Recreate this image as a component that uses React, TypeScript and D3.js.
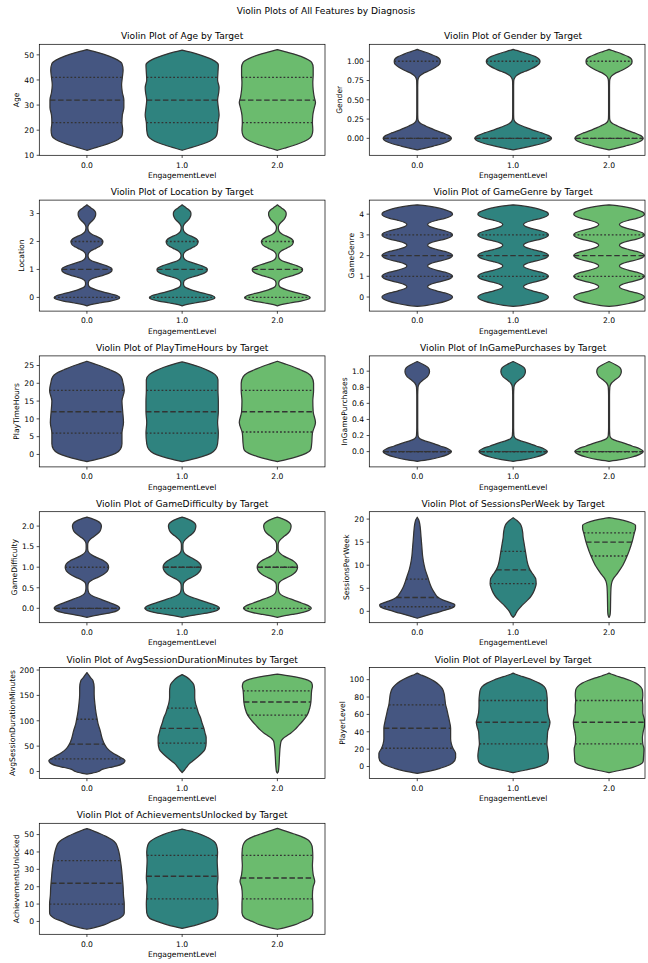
import React from "react";
import * as d3 from "d3";

type Profile = [number, number][];

// categories and colours
const levels = ["0.0", "1.0", "2.0"];
const violinColors = ["#455681", "#2f837f", "#6bbb6e"];
const features = [
  "Age", "Gender", "Location", "GameGenre", "PlayTimeHours", "InGamePurchases",
  "GameDifficulty", "SessionsPerWeek", "AvgSessionDurationMinutes", "PlayerLevel", "AchievementsUnlocked",
];

// y axis ranges and ticks
const yDomains: [number, number][] = [
  [10, 54.2], [-0.22, 1.22], [-0.49, 3.48], [-0.68, 4.68], [-3.5, 27.7], [-0.19, 1.19],
  [-0.35, 2.35], [-2.46, 21.6], [-13.8, 205], [-13.8, 114], [-7.4, 56.5],
];
const yTicks = [
  [10, 20, 30, 40, 50],
  [0, 0.25, 0.5, 0.75, 1],
  [0, 1, 2, 3],
  [0, 1, 2, 3, 4],
  [0, 5, 10, 15, 20, 25],
  [0, 0.2, 0.4, 0.6, 0.8, 1],
  [0, 0.5, 1, 1.5, 2],
  [0, 5, 10, 15, 20],
  [0, 50, 100, 150, 200],
  [0, 20, 40, 60, 80, 100],
  [0, 10, 20, 30, 40, 50],
];
const tickDigits = [0, 2, 0, 0, 0, 1, 1, 0, 0, 0, 0];

// density outlines: [value, relative half width]
const ageDensity: Profile[] = [
  [[12, 0], [12.8, 0.18], [13.8, 0.4], [15, 0.63], [16.3, 0.82], [17.8, 0.92], [20, 0.94], [23, 0.92], [26, 0.93], [29, 0.97], [32, 0.97], [35, 0.93], [38, 0.91], [41, 0.93], [44, 0.95], [46.5, 0.92], [48, 0.8], [49.5, 0.58], [50.8, 0.32], [51.6, 0.12], [52.1, 0]],
  [[12, 0], [12.8, 0.18], [13.8, 0.4], [15, 0.63], [16.3, 0.8], [17.8, 0.9], [20, 0.93], [23, 0.94], [26, 0.97], [29, 0.95], [32, 0.93], [35, 0.96], [37, 0.97], [40, 0.93], [43, 0.94], [46, 0.95], [47.5, 0.86], [49, 0.65], [50.5, 0.36], [51.4, 0.13], [51.9, 0]],
  [[12, 0], [12.8, 0.18], [13.8, 0.4], [15, 0.62], [16.3, 0.8], [17.8, 0.9], [20, 0.93], [23, 0.92], [26, 0.93], [29, 0.97], [31, 1.0], [33, 0.97], [36, 0.94], [39, 0.93], [42, 0.94], [45, 0.94], [47, 0.9], [48.5, 0.75], [50, 0.5], [51.2, 0.22], [52.1, 0]],
];
const ageQuartiles = [[23, 32, 41], [23, 32, 41], [23, 32, 41]];

const genderSide: Profile = [[-0.15, 0], [-0.13, 0.18], [-0.1, 0.42], [-0.07, 0.65], [-0.035, 0.83], [0, 0.89], [0.035, 0.83], [0.07, 0.67], [0.1, 0.5], [0.13, 0.36], [0.16, 0.22], [0.19, 0.1], [0.22, 0.035], [0.26, 0.015], [0.35, 0.012], [0.5, 0.012], [0.65, 0.012], [0.74, 0.015], [0.78, 0.03], [0.81, 0.07], [0.84, 0.15], [0.87, 0.28], [0.9, 0.4], [0.94, 0.53], [0.97, 0.59], [1, 0.6], [1.03, 0.58], [1.06, 0.5], [1.09, 0.36], [1.12, 0.2], [1.14, 0.08], [1.155, 0]];
const genderMiddle: Profile = [[-0.15, 0], [-0.13, 0.2], [-0.1, 0.47], [-0.07, 0.73], [-0.035, 0.93], [0, 1.0], [0.035, 0.93], [0.07, 0.75], [0.1, 0.56], [0.13, 0.4], [0.16, 0.24], [0.19, 0.11], [0.22, 0.04], [0.26, 0.015], [0.35, 0.012], [0.5, 0.012], [0.65, 0.012], [0.74, 0.015], [0.78, 0.035], [0.81, 0.08], [0.84, 0.17], [0.87, 0.32], [0.9, 0.46], [0.94, 0.61], [0.97, 0.68], [1, 0.7], [1.03, 0.67], [1.06, 0.58], [1.09, 0.42], [1.12, 0.23], [1.14, 0.09], [1.155, 0]];
const genderDensity: Profile[] = [genderSide, genderMiddle, genderSide];
const genderQuartiles = [[0, 0, 1], [0, 0, 1], [0, 0, 1]];

const locationShape: Profile = [[-0.3, 0], [-0.26, 0.1], [-0.2, 0.33], [-0.13, 0.62], [-0.06, 0.82], [0, 0.86], [0.06, 0.8], [0.13, 0.62], [0.2, 0.42], [0.27, 0.24], [0.34, 0.11], [0.41, 0.05], [0.5, 0.035], [0.59, 0.05], [0.66, 0.12], [0.73, 0.27], [0.8, 0.44], [0.87, 0.58], [0.94, 0.65], [1, 0.66], [1.06, 0.63], [1.13, 0.52], [1.2, 0.36], [1.27, 0.2], [1.34, 0.09], [1.42, 0.04], [1.5, 0.03], [1.58, 0.045], [1.66, 0.1], [1.73, 0.2], [1.8, 0.3], [1.87, 0.38], [1.94, 0.41], [2, 0.42], [2.06, 0.4], [2.13, 0.33], [2.2, 0.22], [2.27, 0.12], [2.35, 0.05], [2.43, 0.03], [2.5, 0.025], [2.58, 0.04], [2.66, 0.08], [2.74, 0.14], [2.82, 0.19], [2.9, 0.22], [2.96, 0.23], [3.02, 0.23], [3.1, 0.2], [3.17, 0.14], [3.23, 0.08], [3.28, 0.03], [3.31, 0]];
const locationDensity: Profile[] = [locationShape, locationShape, locationShape];
const locationQuartiles = [[0, 1, 2], [0, 1, 2], [0, 1, 2]];

const genreShape: Profile = [[-0.45, 0], [-0.4, 0.25], [-0.3, 0.55], [-0.2, 0.75], [-0.1, 0.88], [0, 0.92], [0.1, 0.87], [0.2, 0.72], [0.3, 0.5], [0.4, 0.33], [0.5, 0.27], [0.6, 0.33], [0.7, 0.5], [0.8, 0.72], [0.9, 0.87], [1, 0.92], [1.1, 0.87], [1.2, 0.72], [1.3, 0.5], [1.4, 0.33], [1.5, 0.27], [1.6, 0.33], [1.7, 0.5], [1.8, 0.72], [1.9, 0.87], [2, 0.92], [2.1, 0.87], [2.2, 0.72], [2.3, 0.5], [2.4, 0.33], [2.5, 0.27], [2.6, 0.33], [2.7, 0.5], [2.8, 0.72], [2.9, 0.87], [3, 0.92], [3.1, 0.87], [3.2, 0.72], [3.3, 0.5], [3.4, 0.33], [3.5, 0.27], [3.6, 0.33], [3.7, 0.5], [3.8, 0.72], [3.9, 0.87], [4, 0.92], [4.1, 0.88], [4.2, 0.75], [4.3, 0.55], [4.4, 0.25], [4.45, 0]];
const genreDensity: Profile[] = [genreShape, genreShape, genreShape];
const genreQuartiles = [[1, 2, 3], [1, 2, 3], [1, 2, 3]];

const playTimeDensity: Profile[] = [
  [[-2, 0], [-1.4, 0.25], [-0.6, 0.52], [0.3, 0.75], [1.5, 0.88], [3, 0.92], [6, 0.92], [9, 0.96], [12, 0.94], [15, 0.92], [18, 0.98], [20, 0.95], [21.8, 0.9], [22.8, 0.8], [23.8, 0.6], [24.8, 0.38], [25.6, 0.16], [26.2, 0]],
  [[-2, 0], [-1.4, 0.25], [-0.6, 0.52], [0.3, 0.75], [1.5, 0.88], [3, 0.93], [6, 0.95], [9, 0.93], [12, 0.95], [15, 0.95], [18, 0.94], [21, 0.94], [22.5, 0.86], [23.5, 0.7], [24.5, 0.48], [25.4, 0.22], [26, 0]],
  [[-2, 0], [-1.4, 0.25], [-0.6, 0.52], [0.3, 0.75], [1.5, 0.88], [3, 0.9], [6, 0.92], [9, 1.0], [12, 0.94], [15, 0.93], [18, 0.95], [20, 0.95], [21.8, 0.9], [22.8, 0.8], [23.8, 0.6], [24.8, 0.38], [25.6, 0.16], [26.2, 0]],
];
const playTimeQuartiles = [[6, 12, 18], [6, 12, 18], [6.3, 12, 18]];

const purchaseShape: Profile = [[-0.12, 0], [-0.1, 0.3], [-0.07, 0.58], [-0.035, 0.8], [0, 0.89], [0.035, 0.8], [0.07, 0.6], [0.1, 0.43], [0.13, 0.22], [0.16, 0.07], [0.2, 0.02], [0.3, 0.012], [0.5, 0.012], [0.7, 0.012], [0.8, 0.02], [0.85, 0.06], [0.89, 0.15], [0.93, 0.26], [0.97, 0.31], [1, 0.32], [1.04, 0.29], [1.08, 0.17], [1.12, 0]];
const purchaseDensity: Profile[] = [purchaseShape, purchaseShape, purchaseShape];
const purchaseQuartiles = [[0, 0, 0], [0, 0, 0], [0, 0, 0]];

const difficultyDensity: Profile[] = [
  [[-0.22, 0], [-0.19, 0.14], [-0.15, 0.38], [-0.1, 0.66], [-0.05, 0.81], [0, 0.86], [0.05, 0.82], [0.1, 0.7], [0.15, 0.56], [0.2, 0.42], [0.25, 0.28], [0.3, 0.15], [0.35, 0.07], [0.42, 0.035], [0.5, 0.025], [0.58, 0.03], [0.64, 0.06], [0.7, 0.16], [0.76, 0.3], [0.83, 0.44], [0.91, 0.54], [1, 0.57], [1.08, 0.54], [1.15, 0.45], [1.21, 0.32], [1.27, 0.18], [1.33, 0.08], [1.39, 0.03], [1.46, 0.02], [1.54, 0.02], [1.61, 0.035], [1.67, 0.08], [1.73, 0.16], [1.8, 0.26], [1.87, 0.34], [1.94, 0.37], [2, 0.38], [2.06, 0.36], [2.12, 0.28], [2.17, 0.16], [2.2, 0.07], [2.22, 0]],
  [[-0.22, 0], [-0.19, 0.16], [-0.15, 0.43], [-0.1, 0.74], [-0.05, 0.92], [0, 0.98], [0.05, 0.93], [0.1, 0.79], [0.15, 0.63], [0.2, 0.47], [0.25, 0.31], [0.3, 0.17], [0.35, 0.08], [0.42, 0.035], [0.5, 0.025], [0.58, 0.03], [0.64, 0.06], [0.7, 0.14], [0.76, 0.27], [0.83, 0.39], [0.91, 0.47], [1, 0.5], [1.08, 0.47], [1.15, 0.39], [1.21, 0.28], [1.27, 0.16], [1.33, 0.07], [1.39, 0.03], [1.46, 0.02], [1.54, 0.02], [1.61, 0.035], [1.67, 0.08], [1.73, 0.15], [1.8, 0.25], [1.87, 0.32], [1.94, 0.35], [2, 0.36], [2.06, 0.34], [2.12, 0.26], [2.17, 0.15], [2.2, 0.07], [2.22, 0]],
  [[-0.22, 0], [-0.19, 0.14], [-0.15, 0.39], [-0.1, 0.67], [-0.05, 0.83], [0, 0.89], [0.05, 0.84], [0.1, 0.72], [0.15, 0.57], [0.2, 0.43], [0.25, 0.28], [0.3, 0.15], [0.35, 0.07], [0.42, 0.035], [0.5, 0.025], [0.58, 0.03], [0.64, 0.06], [0.7, 0.15], [0.76, 0.28], [0.83, 0.41], [0.91, 0.5], [1, 0.53], [1.08, 0.5], [1.15, 0.42], [1.21, 0.3], [1.27, 0.17], [1.33, 0.08], [1.39, 0.03], [1.46, 0.02], [1.54, 0.02], [1.61, 0.035], [1.67, 0.08], [1.73, 0.15], [1.8, 0.25], [1.87, 0.32], [1.94, 0.35], [2, 0.36], [2.06, 0.34], [2.12, 0.26], [2.17, 0.15], [2.2, 0.07], [2.22, 0]],
];
const difficultyQuartiles = [[0, 0, 1], [0, 1, 1], [0, 1, 1]];

const sessionsDensity: Profile[] = [
  [[-1.5, 0], [-1, 0.2], [-0.4, 0.45], [0.3, 0.75], [1, 0.96], [1.4, 0.98], [2, 0.82], [2.5, 0.66], [3, 0.55], [4, 0.45], [5, 0.38], [6, 0.33], [7, 0.29], [8, 0.25], [9, 0.21], [10, 0.18], [12, 0.14], [14, 0.12], [16, 0.1], [18, 0.08], [19.2, 0.06], [19.9, 0.035], [20.4, 0]],
  [[-1.3, 0], [-0.8, 0.05], [0, 0.1], [1, 0.2], [2, 0.32], [3, 0.44], [4, 0.52], [5, 0.57], [6, 0.6], [7, 0.59], [8, 0.52], [9, 0.44], [10, 0.39], [11, 0.36], [12, 0.34], [13, 0.32], [14, 0.3], [15, 0.28], [16, 0.26], [17, 0.25], [18, 0.23], [19, 0.18], [19.7, 0.1], [20.3, 0]],
  [[-1.3, 0], [-0.8, 0.025], [0, 0.035], [2, 0.04], [4, 0.045], [5.5, 0.055], [6.5, 0.08], [7.3, 0.13], [8, 0.2], [9, 0.28], [10, 0.36], [11, 0.42], [12, 0.47], [13, 0.52], [14, 0.56], [15, 0.6], [16, 0.63], [17, 0.66], [18, 0.69], [18.6, 0.69], [19.2, 0.58], [19.7, 0.38], [20.1, 0.15], [20.3, 0]],
];
const sessionsQuartiles = [[1, 3, 7], [6, 9, 13], [12, 15, 17]];

const durationDensity: Profile[] = [
  [[-5, 0], [-3.5, 0.12], [-2, 0.22], [0, 0.3], [4.6, 0.42], [8, 0.6], [11, 0.79], [16, 0.95], [21, 1.0], [25, 0.95], [30, 0.83], [37.5, 0.66], [45, 0.54], [54, 0.46], [65, 0.4], [80, 0.35], [95, 0.29], [103, 0.27], [115, 0.24], [133, 0.21], [153, 0.19], [166, 0.19], [179, 0.16], [185.5, 0.09], [191, 0.04], [195, 0]],
  [[-2, 0], [3, 0.06], [8, 0.11], [14.5, 0.18], [20, 0.27], [27.6, 0.39], [35, 0.5], [44, 0.6], [56, 0.63], [67, 0.63], [76, 0.6], [85.5, 0.57], [96, 0.52], [106.6, 0.48], [115, 0.43], [125, 0.39], [135, 0.35], [146, 0.33], [159, 0.33], [166, 0.32], [172, 0.3], [177, 0.25], [182, 0.19], [187, 0.1], [191, 0]],
  [[-3, 0], [0, 0.025], [10, 0.04], [30, 0.055], [50, 0.075], [60, 0.1], [65, 0.15], [70, 0.24], [75, 0.34], [82, 0.45], [90, 0.55], [100, 0.67], [111, 0.78], [125, 0.85], [137, 0.88], [150, 0.89], [160, 0.9], [168, 0.92], [175, 0.9], [180, 0.8], [184, 0.62], [188, 0.35], [191, 0.1], [192, 0]],
];
const durationQuartiles = [[25, 54, 103], [56, 85, 125], [111, 137, 159]];

const levelDensity: Profile[] = [
  [[-8, 0], [-5, 0.35], [-2, 0.6], [0, 0.74], [4, 0.92], [10, 1.0], [15, 1.0], [21, 0.93], [26, 0.89], [32, 0.87], [38, 0.87], [44, 0.87], [52, 0.84], [60, 0.8], [66, 0.77], [71, 0.74], [78, 0.72], [84, 0.7], [90, 0.65], [94, 0.57], [98, 0.45], [101, 0.33], [104, 0.18], [106, 0.07], [107.5, 0]],
  [[-7, 0], [-4, 0.33], [-1, 0.62], [2, 0.8], [6, 0.9], [12, 0.92], [20, 0.9], [26, 0.88], [33, 0.89], [40, 0.9], [46, 0.94], [51, 0.96], [56, 0.93], [62, 0.9], [70, 0.89], [76, 0.89], [82, 0.88], [88, 0.86], [92, 0.81], [96, 0.68], [99, 0.53], [102, 0.35], [104.5, 0.18], [106.5, 0.05], [107.5, 0]],
  [[-7, 0], [-4, 0.33], [-1, 0.62], [2, 0.8], [6, 0.89], [12, 0.9], [20, 0.91], [26, 0.88], [33, 0.87], [40, 0.89], [46, 0.92], [51, 0.93], [56, 0.91], [62, 0.88], [70, 0.88], [76, 0.87], [82, 0.88], [88, 0.87], [92, 0.82], [96, 0.7], [99, 0.55], [102, 0.36], [104.5, 0.18], [106.5, 0.05], [107.5, 0]],
];
const levelQuartiles = [[21, 44, 71], [26, 51, 76], [26, 51, 76]];

const achievementDensity: Profile[] = [
  [[-4.5, 0], [-3.5, 0.2], [-2, 0.45], [0, 0.65], [2, 0.87], [5, 0.98], [10, 0.98], [15, 0.96], [20, 0.95], [25, 0.93], [30, 0.91], [35, 0.88], [40, 0.84], [43, 0.8], [45, 0.76], [47, 0.66], [49, 0.5], [50.5, 0.35], [52, 0.18], [53, 0.07], [53.5, 0]],
  [[-4, 0], [-3, 0.2], [-1.5, 0.45], [0, 0.66], [2, 0.86], [5, 0.93], [10, 0.94], [15, 0.93], [20, 0.92], [25, 0.94], [30, 0.93], [35, 0.92], [40, 0.93], [44, 0.9], [46, 0.84], [48, 0.7], [50, 0.5], [51.5, 0.3], [52.5, 0.12], [53.2, 0]],
  [[-4.5, 0], [-3.5, 0.2], [-2, 0.45], [0, 0.66], [2, 0.86], [5, 0.93], [10, 0.93], [15, 0.92], [20, 0.94], [23, 0.98], [27, 0.94], [32, 0.92], [37, 0.93], [42, 0.92], [45, 0.88], [47, 0.8], [49, 0.62], [50.5, 0.42], [52, 0.22], [53, 0.08], [53.6, 0]],
];
const achievementQuartiles = [[10, 22, 35], [13, 26, 38], [13, 25, 38]];

const densities = [ageDensity, genderDensity, locationDensity, genreDensity, playTimeDensity, purchaseDensity, difficultyDensity, sessionsDensity, durationDensity, levelDensity, achievementDensity];
const quartiles = [ageQuartiles, genderQuartiles, locationQuartiles, genreQuartiles, playTimeQuartiles, purchaseQuartiles, difficultyQuartiles, sessionsQuartiles, durationQuartiles, levelQuartiles, achievementQuartiles];

// layout
const W = 648, H = 963;
const FONT = "DejaVu Sans, Verdana, sans-serif";
const TICK_FS = 7.6, TITLE_FS = 9.1;
const cols = [
  { left: 39.3, frameRight: 325, scaleRight: 325 },
  { left: 369.3, frameRight: 645, scaleRight: 657 },
];
const ROW0 = 44.3, ROW_STEP = 155.8, PANEL_H = 111;
const LINE = "#333333";

const charW: Record<string, number> = { ".": 0.318, "-": 0.838 };
const textW = (s: string) => s.split("").reduce((a, c) => a + (charW[c] ?? 0.636), 0) * TICK_FS;

function widthAt(p: Profile, v: number) {
  for (let i = 1; i < p.length; i++) {
    if (v <= p[i][0]) {
      const [v0, w0] = p[i - 1];
      const [v1, w1] = p[i];
      return w0 + ((w1 - w0) * (v - v0)) / (v1 - v0);
    }
  }
  return 0;
}

function Panel({ index }: { index: number }) {
  const col = cols[index % 2];
  const top = ROW0 + Math.floor(index / 2) * ROW_STEP;
  const bottom = top + PANEL_H;
  const x = d3.scaleLinear().domain([-0.5, 2.5]).range([col.left, col.scaleRight]);
  const y = d3.scaleLinear().domain(yDomains[index]).range([bottom, top]);
  const fmt = d3.format(`.${tickDigits[index]}f`);
  const labels = yTicks[index].map((t) => fmt(t));
  const maxW = d3.max(labels, textW) ?? 0;
  const hwMax = x(0.4) - x(0);
  const name = features[index];
  const ylabelX = col.left - 5.32 - maxW - 3.04 - 1.8;
  const midX = (col.left + col.scaleRight) / 2;

  return (
    <g>
      <defs>
        <clipPath id={`clip${index}`}>
          <rect x={col.left} y={top} width={col.frameRight - col.left} height={PANEL_H} />
        </clipPath>
      </defs>
      <g clipPath={`url(#clip${index})`}>
        {levels.map((lv, i) => {
          const prof = densities[index][i].slice().sort((a, b) => b[0] - a[0]);
          const cx = x(i);
          const area = d3
            .area<[number, number]>()
            .y((d) => y(d[0]))
            .x0((d) => cx - d[1] * hwMax)
            .x1((d) => cx + d[1] * hwMax)
            .curve(d3.curveMonotoneY);
          const [q1, med, q3] = quartiles[index][i];
          const src = densities[index][i];
          const seg = (v: number, dash: string, key: string) => {
            const w = widthAt(src, v) * hwMax;
            return (
              <line key={key} x1={cx - w} x2={cx + w} y1={y(v)} y2={y(v)} stroke={LINE} strokeWidth={1.35} strokeDasharray={dash} />
            );
          };
          return (
            <g key={lv}>
              <path d={area(prof) ?? ""} fill={violinColors[i]} stroke={LINE} strokeWidth={1.25} strokeLinejoin="round" />
              {seg(q1, "1.8 2.0", "q1")}
              {seg(q3, "1.8 2.0", "q3")}
              {seg(med, "5.5 2.6", "med")}
            </g>
          );
        })}
      </g>
      <rect x={col.left} y={top} width={col.frameRight - col.left} height={PANEL_H} fill="none" stroke="#000" strokeWidth={0.7} />
      {yTicks[index].map((t, k) => (
        <g key={t}>
          <line x1={col.left - 2.66} x2={col.left} y1={y(t)} y2={y(t)} stroke="#000" strokeWidth={0.7} />
          <text x={col.left - 5.32} y={y(t) + 2.8} textAnchor="end" fontSize={TICK_FS} fontFamily={FONT} fill="#000">
            {labels[k]}
          </text>
        </g>
      ))}
      {levels.map((lv, i) => (
        <g key={lv}>
          <line x1={x(i)} x2={x(i)} y1={bottom} y2={bottom + 2.66} stroke="#000" strokeWidth={0.7} />
          <text x={x(i)} y={bottom + 12.3} textAnchor="middle" fontSize={TICK_FS} fontFamily={FONT} fill="#000">
            {lv}
          </text>
        </g>
      ))}
      <text x={midX} y={bottom + 22.6} textAnchor="middle" fontSize={TICK_FS} fontFamily={FONT} fill="#000">
        EngagementLevel
      </text>
      <text
        transform={`translate(${ylabelX},${(top + bottom) / 2}) rotate(-90)`}
        textAnchor="middle"
        fontSize={TICK_FS}
        fontFamily={FONT}
        fill="#000"
      >
        {name}
      </text>
      <text x={midX} y={top - 5} textAnchor="middle" fontSize={TITLE_FS} fontFamily={FONT} fill="#000">
        {`Violin Plot of ${name} by Target`}
      </text>
    </g>
  );
}

export default function App() {
  return (
    <svg
      width={W}
      height={H}
      viewBox={`0 0 ${W} ${H}`}
      style={{ position: "absolute", left: 0, top: 0, background: "#fff" }}
    >
      <rect width={W} height={H} fill="#fff" />
      <text x={326} y={13.5} textAnchor="middle" fontSize={TITLE_FS} fontFamily={FONT} fill="#000">
        Violin Plots of All Features by Diagnosis
      </text>
      {features.map((f, i) => (
        <Panel key={f} index={i} />
      ))}
    </svg>
  );
}
